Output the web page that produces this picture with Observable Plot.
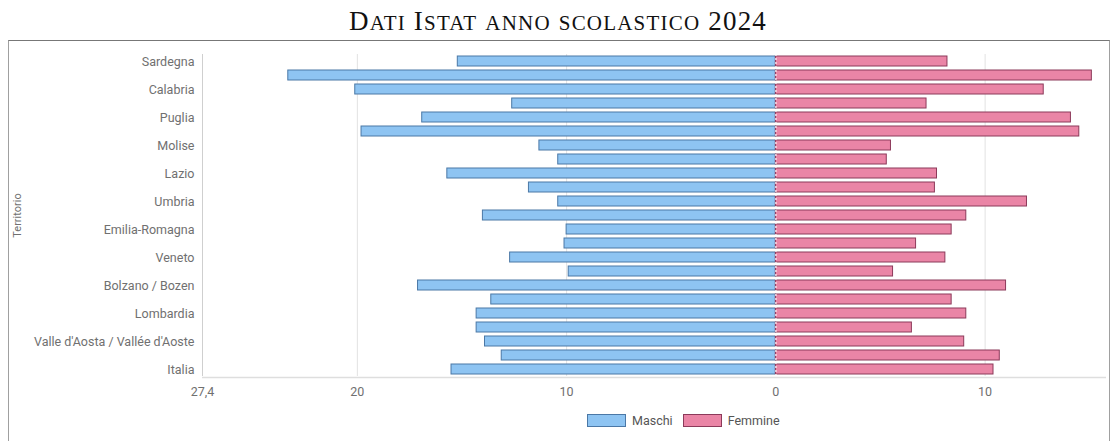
<!DOCTYPE html>
<html>
<head>
<meta charset="utf-8">
<script src="https://cdn.jsdelivr.net/npm/d3@7"></script>
<script src="https://cdn.jsdelivr.net/npm/@observablehq/plot@0.6"></script>
<style>
  body { margin: 0; background: #fff; width: 1116px; height: 441px; overflow: hidden; position: relative; font-family: Roboto, sans-serif; }
  #title { position: absolute; top: 6px; left: 0; width: 1116px; text-align: center; font-family: "Liberation Serif", "Times New Roman", serif; font-weight: normal; font-size: 27px; line-height: normal; letter-spacing: 1.2px; color: #111; white-space: nowrap; }
  #title .sc { font-size: 21px; text-transform: uppercase; }
  #box { position: absolute; left: 8px; top: 40px; width: 1100px; height: 420px; border: 1px solid #a0a0a0; border-top-color: #777; }
  #chart { position: absolute; left: 0; top: 0; }
  #legend { position: absolute; left: 587px; top: 413px; display: flex; align-items: center; font-family: Roboto, sans-serif; font-size: 12.5px; color: #555; }
  .sw { width: 37px; height: 11px; border: 1px solid; margin-right: 6px; }
  .lab { margin-right: 10px; }
</style>
</head>
<body>
<div id="title"></div>
<div id="box"><div id="chart"></div></div>
<div id="legend"></div>
<script>
const titleText = "Dati Istat anno scolastico 2024";
const regions = ["Sardegna","Sicilia","Calabria","Basilicata","Puglia","Campania","Molise","Abruzzo","Lazio","Marche","Umbria","Toscana","Emilia-Romagna","Friuli-Venezia Giulia","Veneto","Trento","Bolzano / Bozen","Trentino Alto Adige / Südtirol","Lombardia","Liguria","Valle d'Aosta / Vallée d'Aoste","Piemonte","Italia"];
const maschi  = [15.2, 23.3, 20.1, 12.6, 16.9, 19.8, 11.3, 10.4, 15.7, 11.8, 10.4, 14.0, 10.0, 10.1, 12.7, 9.9, 17.1, 13.6, 14.3, 14.3, 13.9, 13.1, 15.5];
const femmine = [8.2, 15.1, 12.8, 7.2, 14.1, 14.5, 5.5, 5.3, 7.7, 7.6, 12.0, 9.1, 8.4, 6.7, 8.1, 5.6, 11.0, 8.4, 9.1, 6.5, 9.0, 10.7, 10.4];
const series = ["Maschi", "Femmine"];
const colors = {Maschi: {fill: "#8ec4f2", stroke: "#4b78a6"}, Femmine: {fill: "#ea85a6", stroke: "#8c3a5a"}};
const xTicks = [-27.4, -20, -10, 0, 10];
const gridTicks = [-20, -10, 10];
const xDomain = [-27.4, 15.8];
const labelledRegions = regions.filter((_, i) => i % 2 === 0);

// small-caps title: uppercase letters full size, lowercase as smaller capitals
const titleEl = document.getElementById("title");
let buf = "", html = "";
for (const ch of titleText) {
  if (/[a-z]/.test(ch)) { buf += ch; }
  else {
    if (buf) { html += `<span class="sc">${buf}</span>`; buf = ""; }
    html += ch === " " ? " " : ch;
  }
}
if (buf) html += `<span class="sc">${buf}</span>`;
titleEl.innerHTML = html;

const fmt = d3.format(".1~f");
const tickFmt = d => fmt(Math.abs(d)).replace(".", ",");

const rowsM = regions.map((r, i) => ({region: r, v: -maschi[i]}));
const rowsF = regions.map((r, i) => ({region: r, v: femmine[i]}));

const plot = Plot.plot({
  width: 1100,
  height: 360,
  marginLeft: 193,
  marginRight: 3,
  marginTop: 13,
  marginBottom: 25,
  style: {fontFamily: "Roboto, sans-serif", fontSize: "12.5px", color: "#707070", background: "transparent"},
  x: {domain: xDomain, label: null},
  y: {domain: regions, paddingInner: 0.3, paddingOuter: 0.15, label: null},
  marks: [
    Plot.gridX(gridTicks, {stroke: "#e2e2e2", strokeOpacity: 1}),
    Plot.ruleX([xDomain[0]], {stroke: "#cfcfcf"}),
    Plot.ruleY([regions[regions.length - 1]], {dy: 8, stroke: "#dedede", strokeWidth: 1.5}),
    Plot.barX(rowsM, {y: "region", x1: 0, x2: "v", fill: colors.Maschi.fill, stroke: colors.Maschi.stroke, strokeWidth: 1}),
    Plot.barX(rowsF, {y: "region", x1: 0, x2: "v", fill: colors.Femmine.fill, stroke: colors.Femmine.stroke, strokeWidth: 1}),
    Plot.ruleX([0], {stroke: "#ffffff", strokeWidth: 1.5, strokeDasharray: "2,2", strokeOpacity: 0.8}),
    Plot.axisX({ticks: xTicks, tickSize: 0, tickPadding: 11, tickFormat: tickFmt, label: null, fill: "#707070"}),
    Plot.axisY({ticks: labelledRegions, tickSize: 0, tickPadding: 8, label: null, fill: "#707070"}),
    Plot.text(["Territorio"], {frameAnchor: "left", textAnchor: "middle", dx: -185, rotate: -90, fill: "#707070", fontSize: 11})
  ]
});
document.getElementById("chart").appendChild(plot);

const legend = document.getElementById("legend");
series.forEach(s => {
  const sw = document.createElement("div");
  sw.className = "sw";
  sw.style.background = colors[s].fill;
  sw.style.borderColor = colors[s].stroke;
  const t = document.createElement("span");
  t.className = "lab";
  t.textContent = s;
  legend.appendChild(sw);
  legend.appendChild(t);
});
</script>
</body>
</html>
